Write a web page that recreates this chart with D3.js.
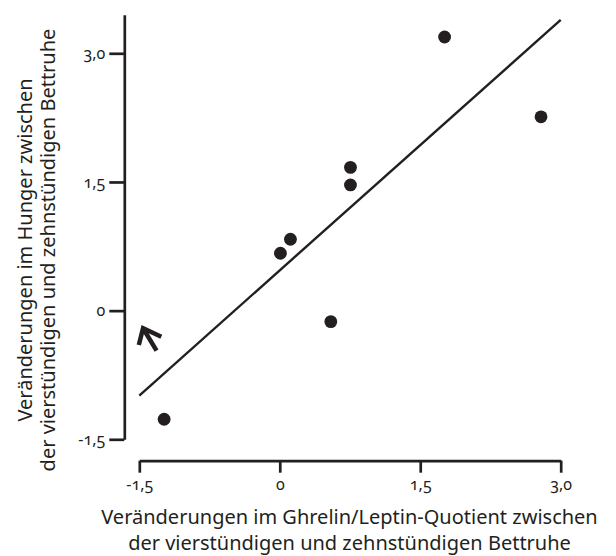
<!DOCTYPE html>
<html>
<head>
<meta charset="utf-8">
<script src="https://cdn.jsdelivr.net/npm/d3@7"></script>
<style>
  body { margin: 0; background: #fff; }
  svg text { font-family: "Noto Sans", sans-serif; fill: #231f20; font-variant-numeric: oldstyle-nums; }
</style>
</head>
<body>
<svg id="drawing_region"></svg>
<script>
// Ghrelin/Leptin-Quotient (x) vs. Hunger (y)
const xValues = [1.76, 2.79, 0.755, 0.755, 0.114, 0.007, -1.235, 0.545];
const yValues = [3.19, 2.26, 1.67, 1.465, 0.832, 0.669, -1.266, -0.128];
const tickValues = [-1.5, 0, 1.5, 3.0];
// regression line end points
const lineX = [-1.5, 3.0];
const lineY = [-0.99, 3.39];
// arrow annotation: arm, tip, arm / tip, shaft end
const arrowX = [-1.505, -1.46, -1.265];
const arrowY = [-0.4, -0.205, -0.305];
const arrowShaftX = [-1.46, -1.316];
const arrowShaftY = [-0.205, -0.466];

const xTitle = ["Veränderungen im Ghrelin/Leptin-Quotient zwischen", "der vierstündigen und zehnstündigen Bettruhe"];
const yTitle = ["Veränderungen im Hunger zwischen", "der vierstündigen und zehnstündigen Bettruhe"];

const config = {
    width: 616,
    height: 556,
    ink: '#231f20'
};

const svg = d3.select('#drawing_region')
    .attr('width', config.width)
    .attr('height', config.height);

const xScale = d3.scaleLinear().domain([-1.5, 3.0]).range([139.3, 560.7]);
const yScale = d3.scaleLinear().domain([-1.5, 3.45]).range([439.3, 14.7]);

const fmt = d => d === 0 ? '0' : (d < 0 ? '-' : '') + Math.abs(d).toFixed(1).replace('.', ',');

// y axis
const yAxis = svg.append('g')
    .attr('transform', 'translate(124.3,0)')
    .call(d3.axisLeft(yScale).tickValues(tickValues).tickFormat(fmt).tickSize(15).tickSizeOuter(0).tickPadding(4));

// x axis
const xAxis = svg.append('g')
    .attr('transform', 'translate(0,460.7)')
    .call(d3.axisBottom(xScale).tickValues(tickValues).tickFormat(fmt).tickSize(12).tickSizeOuter(0).tickPadding(6));

[xAxis, yAxis].forEach(ax => {
    ax.select('.domain').attr('stroke', config.ink).attr('stroke-width', 2.7);
    ax.selectAll('.tick line').attr('stroke', config.ink).attr('stroke-width', 2.7);
    ax.selectAll('.tick text').style('font-size', '16px').attr('fill', config.ink);
});

// regression line
svg.append('line')
    .attr('x1', xScale(lineX[0])).attr('y1', yScale(lineY[0]))
    .attr('x2', xScale(lineX[1])).attr('y2', yScale(lineY[1]))
    .attr('stroke', config.ink)
    .attr('stroke-width', 2.4);

// points
svg.selectAll('circle.pt')
    .data(xValues.map((x, i) => ({x: x, y: yValues[i]})))
    .enter()
    .append('circle')
    .attr('class', 'pt')
    .attr('cx', d => xScale(d.x))
    .attr('cy', d => yScale(d.y))
    .attr('r', 6.4)
    .attr('fill', config.ink);

// arrow
const arrowLine = d3.line().x(d => xScale(d[0])).y(d => yScale(d[1]));
svg.append('path')
    .attr('d', arrowLine(arrowX.map((x, i) => [x, arrowY[i]])))
    .attr('fill', 'none').attr('stroke', config.ink).attr('stroke-width', 4.5)
    .attr('stroke-linejoin', 'miter');
svg.append('path')
    .attr('d', arrowLine(arrowShaftX.map((x, i) => [x, arrowShaftY[i]])))
    .attr('fill', 'none').attr('stroke', config.ink).attr('stroke-width', 4.5);

// axis titles
svg.append('text')
    .attr('x', 349.5).attr('y', 524)
    .attr('text-anchor', 'middle')
    .style('font-size', '20px')
    .selectAll('tspan')
    .data(xTitle)
    .enter()
    .append('tspan')
    .attr('x', 349.5)
    .attr('dy', (d, i) => i === 0 ? 0 : 26)
    .text(d => d);

svg.append('text')
    .attr('transform', 'translate(32,250) rotate(-90)')
    .attr('text-anchor', 'middle')
    .style('font-size', '20px')
    .selectAll('tspan')
    .data(yTitle)
    .enter()
    .append('tspan')
    .attr('x', 0)
    .attr('dy', (d, i) => i === 0 ? 0 : 23)
    .text(d => d);
</script>
</body>
</html>
